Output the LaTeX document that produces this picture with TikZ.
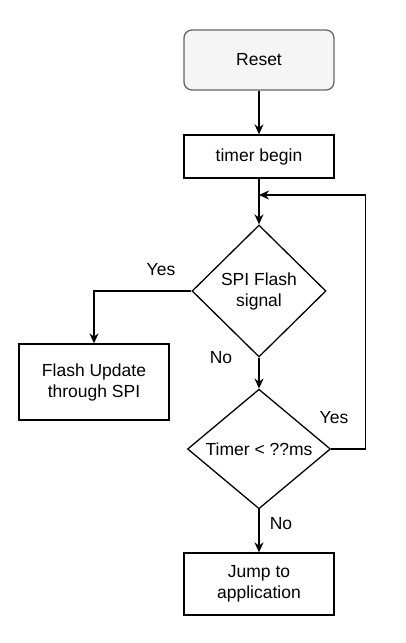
\documentclass[tikz,border=0pt]{standalone}
\usepackage{fontspec}
\setmainfont{Liberation Sans}
\usetikzlibrary{shapes.geometric,positioning,arrows.meta}
\definecolor{resetfill}{HTML}{F5F5F5}
\definecolor{resetdraw}{HTML}{666666}

\begin{document}
\begin{tikzpicture}[x=1pt,y=1pt,->,>={Stealth[length=10pt,width=9pt]},line width=1.3pt,
   node distance=96pt,on grid,
   every node/.style={font=\fontsize{17.5}{21}\selectfont},
   box/.style={draw,-,align=center,minimum width=150pt,minimum height=43pt,inner sep=2pt},
   decision/.style={draw,-,diamond,aspect=1,inner sep=0pt,align=center}]
 \useasboundingbox (0,0) rectangle (406,-643);
 \node[box,rounded corners=8pt,fill=resetfill,draw=resetdraw,minimum height=60pt] (R) at (259,-60) {Reset};
 \node[box] (T) [below=96.5pt of R] {timer begin};
 \node[decision,minimum width=134pt,minimum height=132pt] (S) [below=134.5pt of T] {SPI Flash\\signal};
 \node[decision,minimum width=143pt,minimum height=118pt] (M) [below=158pt of S] {Timer < ??ms};
 \node[box,minimum height=62pt] (J) [below=135pt of M] {Jump to\\application};
 \node[box,minimum height=76pt] (F) [below left=91pt and 165pt of S] {Flash Update\\through SPI};
 \coordinate (back) at (259,-195);
 \draw (R) -- (T);
 \draw (T) -- (S);
 \draw (S) -- (M);
 \draw (M) -- (J);
 \draw (S.west) -| (F.north);
 \draw (M.east) -- ++(34,0) |- (back);
 \node (yes1) at (161,-270) {Yes};
 \node (no1) at (221,-358) {No};
 \node (yes2) at (334,-418) {Yes};
 \node (no2) at (281,-524) {No};
\end{tikzpicture}
\end{document}
